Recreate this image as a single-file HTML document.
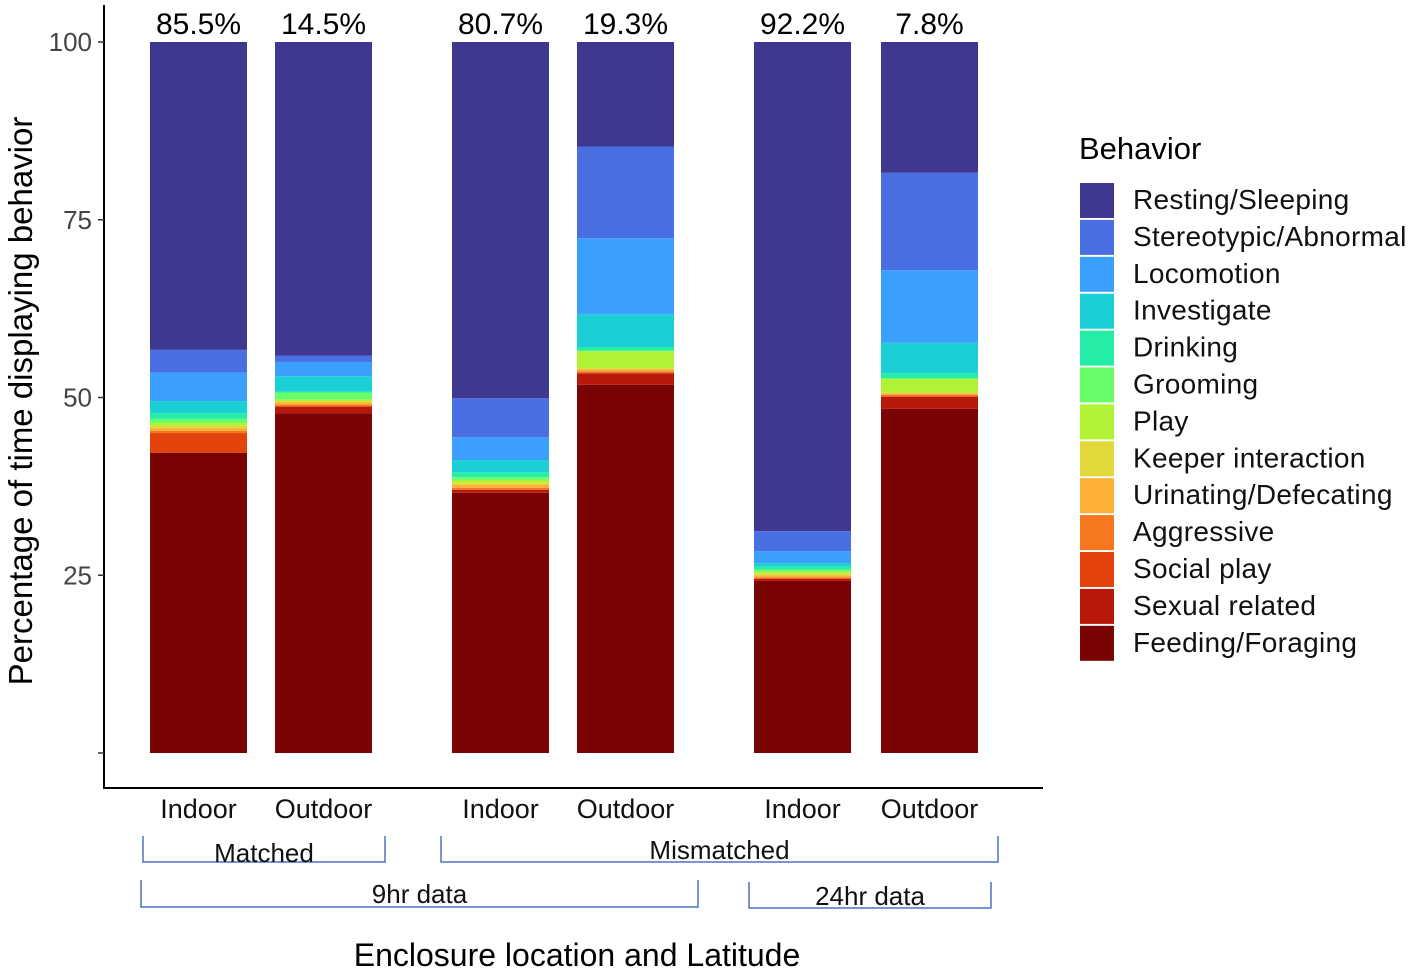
<!DOCTYPE html>
<html><head><meta charset="utf-8"><style>
html,body{margin:0;padding:0;background:#fff;}
svg{display:block;font-family:"Liberation Sans",sans-serif;}
</style></head><body>
<svg id="chart" width="1418" height="974" viewBox="0 0 1418 974">
<g id="bars"></g>
<g id="axes"></g>
<g id="legend"></g>
</svg>
<script>
const categories = ["Matched Indoor","Matched Outdoor","Mismatched Indoor","Mismatched Outdoor","24hr Indoor","24hr Outdoor"];
const xLabels = ["Indoor","Outdoor","Indoor","Outdoor","Indoor","Outdoor"];
const topLabels = ["85.5%","14.5%","80.7%","19.3%","92.2%","7.8%"];
const behaviors = ["Feeding/Foraging","Sexual related","Social play","Aggressive","Urinating/Defecating","Keeper interaction","Play","Grooming","Drinking","Investigate","Locomotion","Stereotypic/Abnormal","Resting/Sleeping"];
const colors = ["#7a0403","#b8180a","#e2440c","#f5781f","#fcb036","#e4d93a","#b2f236","#6afd6a","#26eda6","#1bd0d5","#3ba0fd","#4a6fe3","#3e3891"];
const feeding     = [42.2,47.8,36.6,51.8,24.2,48.4];
const sexual      = [0.1,0.9,0.4,1.6,0.3,1.7];
const socialPlay  = [2.7,0.1,0.1,0.1,0.1,0.1];
const aggressive  = [0.3,0.2,0.2,0.2,0.1,0.2];
const urinating   = [0.4,0.3,0.4,0.3,0.3,0.2];
const keeper      = [0.3,0.2,0.3,0.1,0.2,0.1];
const play        = [0.4,0.2,0.4,2.4,0.3,1.9];
const grooming    = [0.6,1.0,0.4,0.1,0.3,0.1];
const drinking    = [0.8,0.1,0.7,0.5,0.4,0.7];
const investigate = [1.7,2.2,1.7,4.6,0.5,4.3];
const locomotion  = [4.0,2.0,3.2,10.7,1.7,10.2];
const stereotypic = [3.2,0.9,5.5,12.9,2.8,13.7];
const resting     = [43.3,44.1,50.1,14.7,68.8,18.4];
const yTicks = [0,25,50,75,100];
const yTickLabels = ["","25","50","75","100"];

const series=[feeding,sexual,socialPlay,aggressive,urinating,keeper,play,grooming,drinking,investigate,locomotion,stereotypic,resting];
const NS="http://www.w3.org/2000/svg";
const Y0=753, Y100=42;
function yScale(v){return Y0-(Y0-Y100)*v/100;}
const barLeft=[150,275,452,577,754,881], barW=97;
function xScale(i){return barLeft[i];}
function mk(tag,attrs,parent){const e=document.createElementNS(NS,tag);for(const k in attrs)e.setAttribute(k,attrs[k]);parent.appendChild(e);return e;}
const gb=document.getElementById('bars'), ga=document.getElementById('axes'), gl=document.getElementById('legend');

categories.forEach((c,i)=>{
  let cum=0;
  series.forEach((s,j)=>{
    const y1=yScale(cum), y2=yScale(cum+s[i]); cum+=s[i];
    const r=mk('rect',{x:xScale(i),y:y2,width:barW,height:Math.max(0,y1-y2),fill:colors[j]},gb);
    
    
  });
  const t=mk('text',{x:xScale(i)+barW/2,y:34,'text-anchor':'middle','font-size':30,fill:'#000'},gb);
  t.textContent=topLabels[i];
  
  
  const xl=mk('text',{x:xScale(i)+barW/2,y:818,'text-anchor':'middle','font-size':27,fill:'#111'},ga);
  xl.textContent=xLabels[i];
  
  
});

mk('line',{x1:104,y1:5,x2:104,y2:789,stroke:'#000','stroke-width':2},ga);
mk('line',{x1:103,y1:788,x2:1043,y2:788,stroke:'#000','stroke-width':2},ga);
yTicks.forEach((v,i)=>{
  const tk=mk('line',{x1:98,x2:104,y1:yScale(v),y2:yScale(v),stroke:'#333','stroke-width':1.5},ga);
  
  
  const tl=mk('text',{x:92,y:yScale(v)+9,'text-anchor':'end','font-size':26,fill:'#444'},ga);
  tl.textContent=yTickLabels[i];
  
  
});
const yt=mk('text',{transform:'translate(32,401) rotate(-90)','text-anchor':'middle','font-size':33,fill:'#000'},ga);
yt.textContent='Percentage of time displaying behavior';


const xt=mk('text',{x:577,y:966,'text-anchor':'middle','font-size':32,fill:'#000'},ga);
xt.textContent='Enclosure location and Latitude';



const brackets=[[143,385,836,862,'Matched',862],[441,998,836,862,'Mismatched',859],[141,698,880,907,'9hr data',903],[749,991,882,908,'24hr data',905]];
brackets.forEach(b=>{
  const p=mk('path',{d:`M${b[0]} ${b[2]} V${b[3]} H${b[1]} V${b[2]}`,fill:'none',stroke:'#4a74c4','stroke-width':1.5},ga);
  
  
  const t=mk('text',{x:(b[0]+b[1])/2,y:b[5],'text-anchor':'middle','font-size':26,fill:'#111'},ga);
  t.textContent=b[4];
  
  
});

const lt=mk('text',{x:1079,y:159,'font-size':31,fill:'#000'},gl);
lt.textContent='Behavior';


for(let k=0;k<13;k++){
  const j=12-k, y=183+k*36.9;
  const r=mk('rect',{x:1080,y:y,width:34,height:35,fill:colors[j]},gl);
  
  
  const t=mk('text',{x:1133,y:y+26,'font-size':28,'letter-spacing':0.3,fill:'#111'},gl);
  t.textContent=behaviors[j];
  
  
}
</script>
</body></html>
